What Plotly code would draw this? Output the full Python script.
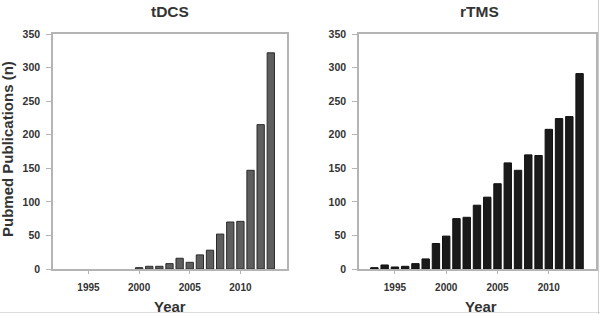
import plotly.graph_objects as go

tdcs_years = list(range(2000, 2014))
tdcs_values = [2, 4, 4, 8, 16, 10, 21, 28, 52, 70, 71, 147, 215, 322]

rtms_years = list(range(1993, 2014))
rtms_values = [2, 6, 3, 4, 8, 15, 38, 49, 75, 77, 95, 107, 127, 158, 147, 170, 169, 208, 224, 227, 291]

panel_titles = ["tDCS", "rTMS"]
x_title = "Year"
y_title = "Pubmed Publications (n)"
x_tickvals = [1995, 2000, 2005, 2010]
y_tickvals = [0, 50, 100, 150, 200, 250, 300, 350]

FONT = "Liberation Sans"
TXT = "#333333"
FRAME = "#b4b4b4"

W, H = 600, 314
L1, R1 = 53, 287
L2, R2 = 359, 596
TOP, BOT = 34, 269

fig = go.Figure()
fig.add_trace(go.Bar(x=tdcs_years, y=tdcs_values, width=0.72,
                     marker=dict(color="#5e5e5e", line=dict(color="#2a2a2a", width=1)),
                     xaxis="x", yaxis="y", showlegend=False))
fig.add_trace(go.Bar(x=rtms_years, y=rtms_values, width=0.72,
                     marker=dict(color="#1a1a1a", line=dict(color="#111111", width=1)),
                     xaxis="x2", yaxis="y2", showlegend=False))

ybot = (H - BOT) / H
ytop = (H - TOP) / H

xcommon = dict(range=[1991.5, 2014.6], tickvals=x_tickvals, ticks="outside", ticklen=3,
               tickcolor=FRAME, showline=True, linecolor=FRAME, linewidth=1.5, mirror=True,
               showgrid=False, zeroline=False, automargin=False, ticklabelstandoff=5,
               tickfont=dict(family=FONT, size=10, color=TXT, weight="bold"))
ycommon = dict(range=[0, 350], tickvals=y_tickvals, ticks="outside", ticklen=5,
               tickcolor=FRAME, showline=True, linecolor=FRAME, linewidth=1.5, mirror=True,
               showgrid=False, zeroline=False, automargin=False, ticklabelstandoff=4,
               tickfont=dict(family=FONT, size=10.5, color=TXT, weight="bold"))

title_font = dict(family=FONT, size=15.5, color=TXT, weight="bold")
label_font = dict(family=FONT, size=15, color=TXT, weight="bold")

fig.update_layout(
    width=W, height=H, margin=dict(l=0, r=0, t=0, b=0),
    paper_bgcolor="white", plot_bgcolor="white", template="none",
    xaxis=dict(domain=[L1 / W, R1 / W], anchor="y", **xcommon),
    yaxis=dict(domain=[ybot, ytop], anchor="x", **ycommon),
    xaxis2=dict(domain=[L2 / W, R2 / W], anchor="y2", **xcommon),
    yaxis2=dict(domain=[ybot, ytop], anchor="x2", **ycommon),
    annotations=[
        dict(text=panel_titles[0], x=(L1 + R1) / 2 / W, y=1 - 12 / H, xref="paper", yref="paper",
             xanchor="center", yanchor="middle", showarrow=False, font=title_font),
        dict(text=panel_titles[1], x=(L2 + R2) / 2 / W + 2 / W, y=1 - 12 / H, xref="paper", yref="paper",
             xanchor="center", yanchor="middle", showarrow=False, font=title_font),
        dict(text=x_title, x=(L1 + R1) / 2 / W, y=1 - 306 / H, xref="paper", yref="paper",
             xanchor="center", yanchor="middle", showarrow=False, font=label_font),
        dict(text=x_title, x=(L2 + R2) / 2 / W + 3 / W, y=1 - 306 / H, xref="paper", yref="paper",
             xanchor="center", yanchor="middle", showarrow=False, font=label_font),
        dict(text=y_title, x=7 / W, y=1 - 149 / H, xref="paper", yref="paper", textangle=-90,
             xanchor="center", yanchor="middle", showarrow=False, font=label_font),
    ],
    shapes=[
        dict(type="line", xref="paper", yref="paper", x0=0, x1=1, y0=1.5 / H, y1=1.5 / H,
             line=dict(color="#dddddd", width=1)),
        dict(type="line", xref="paper", yref="paper", x0=598.5 / W, x1=598.5 / W, y0=0, y1=1,
             line=dict(color="#cccccc", width=1)),
    ],
)

fig.write_html(
    "out.html",
    config={"displayModeBar": False},
    post_script="document.body.style.margin='0';document.body.style.overflow='hidden';",
)
